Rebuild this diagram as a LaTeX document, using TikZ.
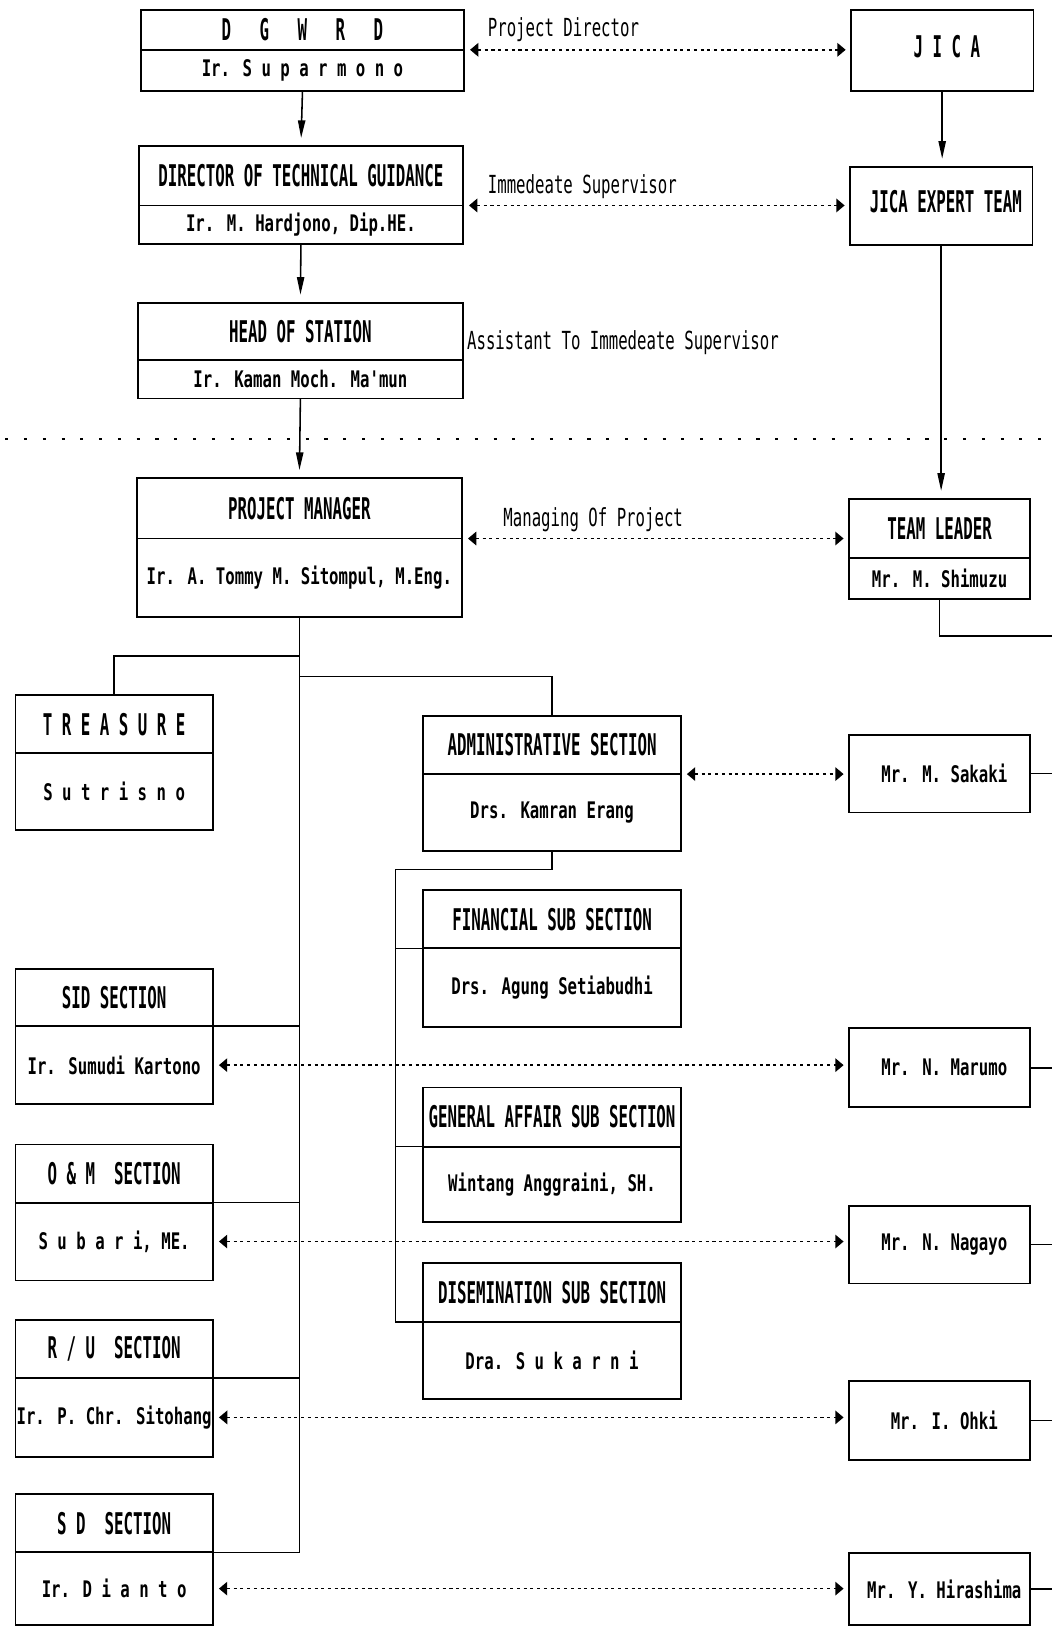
\documentclass[tikz,border=0pt]{standalone}
\usepackage{fontspec}
\usetikzlibrary{arrows.meta}
\newfontfamily\hdrfam[FakeStretch=0.528]{DejaVu Sans Mono}
\newfontfamily\namfam[FakeStretch=0.687]{DejaVu Sans Mono}
\newfontfamily\lblfam[FakeStretch=0.63]{DejaVu Sans Mono}
\newcommand\HF{\hdrfam\bfseries\fontsize{28.8pt}{30pt}\selectfont}
\newcommand\NF{\namfam\bfseries\fontsize{22pt}{24pt}\selectfont}
\newcommand\LF{\lblfam\fontsize{24pt}{26pt}\selectfont}
% two-compartment box: name, x1, x2, ytop, ydiv, ybot, header, sub
\newcommand\twobox[8]{%
  \pgfmathsetmacro\tbw{#3-#2}%
  \pgfmathsetmacro\tbx{(#2+#3)/2}%
  \pgfmathsetmacro\tbha{#5-#4}%
  \pgfmathsetmacro\tbya{(#4+#5)/2}%
  \pgfmathsetmacro\tbhb{#6-#5}%
  \pgfmathsetmacro\tbyb{(#5+#6)/2}%
  \node[cell,minimum width=\tbw pt,minimum height=\tbha pt] (#1h) at (\tbx,\tbya) {\HF #7};%
  \node[cell,minimum width=\tbw pt,minimum height=\tbhb pt] (#1n) at (\tbx,\tbyb) {\NF #8};%
}
% one-compartment box: name, x1, x2, ytop, ybot, font, raise, text
\newcommand\onebox[8]{%
  \pgfmathsetmacro\tbw{#3-#2}%
  \pgfmathsetmacro\tbx{(#2+#3)/2}%
  \pgfmathsetmacro\tbha{#5-#4}%
  \pgfmathsetmacro\tbya{(#4+#5)/2}%
  \node[cell,minimum width=\tbw pt,minimum height=\tbha pt] (#1) at (\tbx,\tbya) {\raisebox{#7}{#6 #8}};%
}
\begin{document}
\begin{tikzpicture}[x=1pt,y=-1pt,
  cell/.style={draw, rectangle, line width=1.8pt, inner sep=1pt, outer sep=0pt},
  conn/.style={line width=1.5pt},
  varr/.style={line width=1.5pt, -{Triangle[length=17pt,width=7pt]}, shorten >=8pt},
  darr/.style={line width=1.6pt, dash pattern=on 3pt off 3.5pt,
     {Triangle[length=8pt,width=13pt]}-{Triangle[length=8pt,width=13pt]},
     shorten <=6pt, shorten >=5pt},
  sepline/.style={line width=2.2pt, dash pattern=on 3pt off 15.1pt, dash phase=-5pt},
  lbl/.style={inner sep=0pt, anchor=west, font=\LF}]
\useasboundingbox[fill=white] (0,0) rectangle (1014,1568);

% ---- left / centre column boxes
\twobox{dgwrd}{136}{447}{10}{48}{88}{D~~~G~~~W~~~R~~~D}{Ir. S u p a r m o n o}
\twobox{dtg}{134}{446}{141}{198}{235}{DIRECTOR OF TECHNICAL GUIDANCE}{Ir. M. Hardjono, Dip.HE.}
\twobox{hos}{133}{446}{292}{347}{384}{HEAD OF STATION}{Ir. Kaman Moch. Ma'mun}
\twobox{pm}{132}{445}{461}{519}{595}{PROJECT MANAGER}{Ir. A. Tommy M. Sitompul, M.Eng.}
\twobox{tl}{818}{993}{481}{538}{577}{TEAM LEADER}{Mr. M. Shimuzu}
\twobox{tre}{15}{205}{670}{726}{800}{T R E A S U R E}{S u t r i s n o}
\twobox{adm}{408}{656}{690}{746}{820}{ADMINISTRATIVE SECTION}{Drs. Kamran Erang}
\twobox{fin}{408}{656}{858}{914}{990}{FINANCIAL SUB SECTION}{Drs. Agung Setiabudhi}
\twobox{gen}{408}{656}{1048}{1105}{1178}{GENERAL AFFAIR SUB SECTION}{Wintang Anggraini, SH.}
\twobox{dis}{408}{656}{1217}{1274}{1348}{DISEMINATION SUB SECTION}{Dra. S u k a r n i}
\twobox{sid}{15}{205}{934}{989}{1064}{SID SECTION}{Ir. Sumudi Kartono}
\twobox{om}{15}{205}{1103}{1159}{1234}{O \& M~~SECTION}{S u b a r i, ME.}
\twobox{ru}{15}{205}{1272}{1328}{1404}{R / U~~SECTION}{Ir. P. Chr. Sitohang}
\twobox{sd}{15}{205}{1440}{1496}{1566}{S D~~SECTION}{Ir. D i a n t o}

% ---- right column boxes
\onebox{jica}{820}{996}{10}{88}{\HF}{8pt}{J I C A}
\onebox{jet}{819}{995}{161}{236}{\HF}{8pt}{JICA EXPERT TEAM}
\onebox{sak}{818}{993}{708}{783}{\NF}{0pt}{Mr. M. Sakaki}
\onebox{mar}{818}{993}{991}{1067}{\NF}{0pt}{Mr. N. Marumo}
\onebox{nag}{818}{993}{1162}{1237}{\NF}{0pt}{Mr. N. Nagayo}
\onebox{ohk}{818}{993}{1331}{1407}{\NF}{0pt}{Mr. I. Ohki}
\onebox{hir}{818}{993}{1497}{1566}{\NF}{0pt}{Mr. Y. Hirashima}

% ---- labels
\node[lbl] (lpd) at (470,29) {Project Director};
\node[lbl] (lis) at (470,180) {Immedeate Supervisor};
\node[lbl] (lai) at (450,330) {Assistant To Immedeate Supervisor};
\node[lbl] (lmp) at (485,501) {Managing Of Project};

% ---- separator
\draw[sepline] (0,423) -- (1014,423);

% ---- vertical arrows
\draw[varr] (dgwrdn.south) -- (dtgh.north);
\draw[varr] (dtgn.south) -- (hosh.north);
\draw[varr] (hosn.south) -- (pmh.north);
\draw[varr] (jica.south) -- (jica.south |- jet.north);
\draw[varr] (jet.south) -- (jet.south |- tlh.north);

% ---- dotted two-way arrows
\draw[darr] (dgwrdn.north east) -- (dgwrdn.north east -| jica.west);
\draw[darr] (dtgn.north east) -- (dtgn.north east -| jet.west);
\draw[darr] (pmn.north east) -- (pmn.north east -| tlh.west);
\draw[darr] (admn.north east) -- (admn.north east -| sak.west);
\draw[darr] (sidn.east) -- (sidn.east -| mar.west);
\draw[darr] (omn.east) -- (omn.east -| nag.west);
\draw[darr] (run.east) -- (run.east -| ohk.west);
\draw[darr] (sdn.east) -- (sdn.east -| hir.west);

% ---- tree connectors
\coordinate (j1) at (288.5,632);
\coordinate (j2) at (288.5,652);
\draw[conn] (pmn.south) |- (sdn.north east);
\draw[conn] (j1) -| (treh.north);
\draw[conn] (j2) -| (admh.north);
\draw[conn] (sidn.north east) -- (sidn.north east -| pmn.south);
\draw[conn] (omn.north east) -- (omn.north east -| pmn.south);
\draw[conn] (run.north east) -- (run.north east -| pmn.south);

\coordinate (ka) at (381,838);
\draw[conn] (admn.south) |- (ka) |- (disn.north west);
\draw[conn] (finn.north west) -- (finn.north west -| ka);
\draw[conn] (genn.north west) -- (genn.north west -| ka);

% ---- right-edge connectors
\coordinate (redge) at (1014,0);
\coordinate (tlr) at (1014,613);
\draw[conn] (tln.south) |- (tlr);
\draw[conn] (sak.east) -- (sak.east -| redge);
\draw[conn] (mar.east) -- (mar.east -| redge);
\draw[conn] (nag.east) -- (nag.east -| redge);
\draw[conn] (ohk.east) -- (ohk.east -| redge);
\draw[conn] (hir.east) -- (hir.east -| redge);
\end{tikzpicture}
\end{document}
